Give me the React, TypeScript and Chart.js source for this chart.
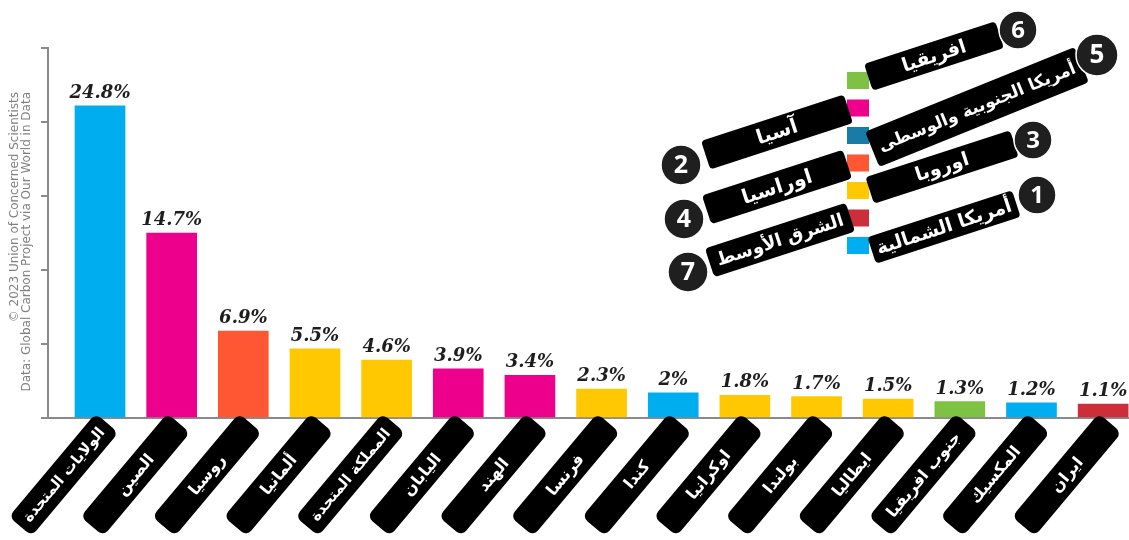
import React, { useEffect, useRef } from 'react';
import { Chart, registerables } from 'chart.js';

Chart.register(...registerables);

// ---- data ----
const countries = [
  'الولايات المتحدة', 'الصين', 'روسيا', 'ألمانيا', 'المملكة المتحدة', 'اليابان', 'الهند',
  'فرنسا', 'كندا', 'اوكرانيا', 'بولندا', 'ايطاليا', 'جنوب افريقيا', 'المكسيك', 'ايران',
];
const shares = [24.8, 14.7, 6.9, 5.5, 4.6, 3.9, 3.4, 2.3, 2, 1.8, 1.7, 1.5, 1.3, 1.2, 1.1];
// region number (1..7) of each country
const countryRegion = [1, 2, 4, 3, 3, 2, 2, 3, 1, 3, 3, 3, 6, 1, 7];

// regions, numbered 1..7
const regionNames = [
  'أمريكا الشمالية', 'آسيا', 'اوروبا', 'اوراسيا', 'أمريكا الجنوبية والوسطى', 'افريقيا', 'الشرق الأوسط',
];
const regionColors = ['#00AEEF', '#EC008C', '#FFC800', '#FF5733', '#1A7BA6', '#7DC242', '#CC2F3A'];
// order of the colour squares, top to bottom
const legendOrder = [6, 2, 5, 4, 3, 7, 1];

const creditLines = [
  '© 2023 Union of Concerned Scientists',
  'Data: Global Carbon Project via Our World in Data',
];

// ---- layout (styles only) ----
const legendLayout: Record<number, { cx: number; cy: number; L: number; T: number; a: number; ox: number; oy: number; r: number; fs: number }> = {
  6: { cx: 934, cy: 56, L: 138, T: 28, a: -18, ox: 1018, oy: 30, r: 19, fs: 19 },
  2: { cx: 777, cy: 132, L: 150, T: 30, a: -18, ox: 681, oy: 165, r: 20, fs: 20 },
  5: { cx: 977, cy: 107, L: 226, T: 38, a: -22, ox: 1097, oy: 55, r: 21, fs: 20 },
  4: { cx: 777, cy: 187, L: 148, T: 30, a: -18, ox: 684, oy: 219, r: 20, fs: 20 },
  3: { cx: 942, cy: 167, L: 152, T: 28, a: -18, ox: 1033, oy: 140, r: 19, fs: 19 },
  7: { cx: 780, cy: 240, L: 148, T: 30, a: -18, ox: 688, oy: 272, r: 20, fs: 20 },
  1: { cx: 944, cy: 227, L: 152, T: 28, a: -18, ox: 1037, oy: 195, r: 19, fs: 19 },
};

const arabicFont = '"DejaVu Sans", "Noto Sans", sans-serif';

function fitFont(ctx: CanvasRenderingContext2D, text: string, fs: number, maxW: number) {
  ctx.font = `bold ${fs}px ${arabicFont}`;
  const w = ctx.measureText(text).width;
  if (w > maxW) {
    const nfs = Math.floor((fs * maxW) / w);
    ctx.font = `bold ${nfs}px ${arabicFont}`;
  }
}

const overlayPlugin = {
  id: 'overlay',
  afterDatasetsDraw(chart: any) {
    const ctx = chart.ctx as CanvasRenderingContext2D;
    const meta = chart.getDatasetMeta(0);

    // value labels
    ctx.save();
    ctx.fillStyle = '#1e1e1e';
    ctx.font = 'italic bold 18px "DejaVu Serif", serif';
    ctx.textAlign = 'center';
    ctx.textBaseline = 'alphabetic';
    meta.data.forEach((bar: any, i: number) => {
      ctx.fillText(String(shares[i]) + '%', bar.x, bar.y - 8);
    });
    ctx.restore();

    // category labels in rotated black boxes
    const ang = (-50 * Math.PI) / 180;
    const L = 135;
    const T = 30;
    meta.data.forEach((bar: any, i: number) => {
      ctx.save();
      ctx.translate(bar.x + 7, 423);
      ctx.rotate(ang);
      ctx.fillStyle = '#000';
      ctx.beginPath();
      (ctx as any).roundRect(-L, -T / 2, L, T, 7);
      ctx.fill();
      fitFont(ctx, countries[i], 16, L - 12);
      ctx.fillStyle = '#fff';
      ctx.textAlign = 'center';
      ctx.textBaseline = 'middle';
      ctx.direction = 'rtl';
      ctx.fillText(countries[i], -L / 2, 1);
      ctx.restore();
    });

    // legend squares
    legendOrder.forEach((reg, k) => {
      ctx.fillStyle = regionColors[reg - 1];
      ctx.fillRect(847, 72 + k * 27.5, 22, 17);
    });

    // legend boxes
    legendOrder.forEach((reg) => {
      const lay = legendLayout[reg];
      ctx.save();
      ctx.translate(lay.cx, lay.cy);
      ctx.rotate((lay.a * Math.PI) / 180);
      ctx.fillStyle = '#000';
      ctx.beginPath();
      (ctx as any).roundRect(-lay.L / 2, -lay.T / 2, lay.L, lay.T, 4);
      ctx.fill();
      ctx.fillStyle = '#fff';
      fitFont(ctx, regionNames[reg - 1], lay.fs, lay.L - 10);
      ctx.textAlign = 'center';
      ctx.textBaseline = 'middle';
      ctx.direction = 'rtl';
      ctx.fillText(regionNames[reg - 1], 0, 1);
      ctx.restore();
    });
    legendOrder.forEach((reg) => {
      const lay = legendLayout[reg];
      ctx.save();
      ctx.beginPath();
      ctx.arc(lay.ox, lay.oy, lay.r, 0, Math.PI * 2);
      ctx.fillStyle = '#1f1f1f';
      ctx.fill();
      ctx.lineWidth = 1.5;
      ctx.strokeStyle = '#fff';
      ctx.stroke();
      ctx.fillStyle = '#fff';
      ctx.font = `bold ${Math.round(lay.r * 1.25)}px "Open Sans", sans-serif`;
      ctx.textAlign = 'center';
      ctx.textBaseline = 'middle';
      ctx.fillText(String(reg), lay.ox, lay.oy + 1);
      ctx.restore();
    });

    // credit text
    ctx.save();
    ctx.fillStyle = '#808080';
    ctx.font = '12px "DejaVu Sans", sans-serif';
    ctx.textAlign = 'right';
    ctx.textBaseline = 'middle';
    creditLines.forEach((line, k) => {
      ctx.save();
      ctx.translate(15 + k * 12, 92);
      ctx.rotate(-Math.PI / 2);
      ctx.fillText(line, 0, 0);
      ctx.restore();
    });
    ctx.restore();
  },
};

export default function App() {
  const ref = useRef<HTMLCanvasElement | null>(null);
  useEffect(() => {
    if (!ref.current) return;
    const chart = new Chart(ref.current, {
      type: 'bar',
      data: {
        datasets: [
          {
            data: shares.map((v, i) => ({ x: i, y: v })),
            backgroundColor: countryRegion.map((r) => regionColors[r - 1]),
            barThickness: 50,
            borderWidth: 0,
          },
        ],
      },
      options: {
        animation: false,
        responsive: false,
        maintainAspectRatio: false,
        layout: { padding: { top: 48, left: 0, right: 0, bottom: 0 } },
        plugins: { legend: { display: false }, tooltip: { enabled: false } },
        scales: {
          x: {
            type: 'linear',
            offset: false,
            min: -0.726,
            max: 14.361,
            grid: { display: false, offset: false },
            ticks: { display: false },
            border: { display: true, color: '#8a8a8a', width: 2 },
            afterFit: (s: any) => {
              s.height = 122;
            },
          },
          y: {
            min: 0,
            max: 29.4,
            ticks: { display: false, stepSize: 5.88 },
            grid: { drawOnChartArea: false, drawTicks: true, tickLength: 7, color: '#8a8a8a', lineWidth: 2 },
            border: { display: true, color: '#8a8a8a', width: 2 },
            afterFit: (s: any) => {
              s.width = 48;
            },
          },
        },
      } as any,
      plugins: [overlayPlugin],
    });
    return () => chart.destroy();
  }, []);
  return (
    <div style={{ position: 'absolute', left: 0, top: 0, width: 1129, height: 540, background: '#fff' }}>
      <canvas ref={ref} width={1129} height={540} style={{ display: 'block', width: 1129, height: 540 }} />
    </div>
  );
}
